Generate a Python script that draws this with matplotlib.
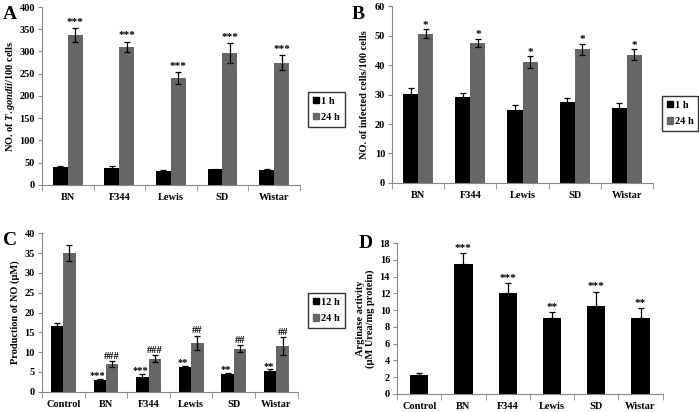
import matplotlib.pyplot as plt
import numpy as np

# Data
strains = ["BN", "F344", "Lewis", "SD", "Wistar"]
groups_cd = ["Control", "BN", "F344", "Lewis", "SD", "Wistar"]

a_1h = [41, 39, 31, 35, 33]
a_1h_err = [2, 3, 2, 1.5, 2]
a_24h = [337, 310, 240, 297, 275]
a_24h_err = [15, 12, 13, 22, 17]
a_sig = ["***"] * 5

b_1h = [30.3, 29.1, 24.9, 27.4, 25.4]
b_1h_err = [1.8, 1.5, 1.6, 1.4, 1.7]
b_24h = [50.6, 47.5, 41.0, 45.3, 43.5]
b_24h_err = [1.5, 1.5, 2.0, 2.0, 1.8]
b_sig = ["*"] * 5

c_12h = [16.5, 3.0, 3.8, 6.2, 4.5, 5.3]
c_12h_err = [0.8, 0.3, 0.7, 0.4, 0.35, 0.35]
c_24h = [35.0, 7.0, 8.4, 12.4, 10.9, 11.5]
c_24h_err = [1.9, 0.7, 0.9, 1.8, 0.8, 2.2]
c_sig12 = ["", "***", "***", "**", "**", "**"]
c_sig24 = ["", "###", "###", "##", "##", "##"]

d_vals = [2.3, 15.5, 12.1, 9.0, 10.5, 9.0]
d_err = [0.2, 1.3, 1.1, 0.75, 1.7, 1.2]
d_sig = ["", "***", "***", "**", "***", "**"]

plt.rcParams["font.family"] = "Liberation Serif"
plt.rcParams["font.weight"] = "bold"
plt.rcParams["axes.labelweight"] = "bold"
plt.rcParams["mathtext.fontset"] = "custom"
plt.rcParams["mathtext.it"] = "Liberation Serif:italic:bold"
plt.rcParams["mathtext.rm"] = "Liberation Serif:bold"

BLACK = "#000000"
GRAY = "#666666"
SPINE = "#888888"

fig = plt.figure(figsize=(6.99, 4.12), dpi=100)
axA = fig.add_axes([0.060, 0.551, 0.369, 0.432])
axB = fig.add_axes([0.561, 0.556, 0.373, 0.429])
axC = fig.add_axes([0.060, 0.049, 0.366, 0.385])
axD = fig.add_axes([0.568, 0.044, 0.380, 0.366])


def style(ax, labels, ymax, ystep):
    n = len(labels)
    ax.set_xlim(0, n)
    ax.set_ylim(0, ymax)
    ax.set_yticks(np.arange(0, ymax + ystep / 2, ystep))
    ax.set_xticks(np.arange(n) + 0.5)
    ax.set_xticklabels(labels, fontsize=7.5)
    ax.set_xticks(np.arange(n + 1), minor=True)
    ax.tick_params(axis="x", which="major", length=0, pad=6)
    ax.tick_params(axis="x", which="minor", length=4, direction="out", color=SPINE)
    ax.tick_params(axis="y", length=3, direction="out", color=SPINE, labelsize=7.5, pad=2)
    for s in ["top", "right"]:
        ax.spines[s].set_visible(False)
    for s in ["left", "bottom"]:
        ax.spines[s].set_color(SPINE)
        ax.spines[s].set_linewidth(0.8)


def pair(ax, v1, e1, v2, e2, w=0.29):
    x = np.arange(len(v1)) + 0.5
    ek = dict(elinewidth=0.9, capsize=2.5, capthick=0.9, ecolor="black")
    ax.bar(x - w / 2, v1, w, color=BLACK, yerr=e1, error_kw=ek, zorder=2)
    ax.bar(x + w / 2, v2, w, color=GRAY, yerr=e2, error_kw=ek, zorder=2)
    return x


def legend(ax, labels, pos):
    from matplotlib.patches import Patch
    h = [Patch(color=BLACK, label=labels[0]), Patch(color=GRAY, label=labels[1])]
    fig.legend(handles=h, loc="upper left", bbox_to_anchor=pos, fontsize=7.5,
               frameon=True, fancybox=False, edgecolor="black", handlelength=0.6,
               handleheight=0.6, handletextpad=0.2, borderpad=0.45, labelspacing=0.7,
               borderaxespad=0)


# A
x = pair(axA, a_1h, a_1h_err, a_24h, a_24h_err)
for xi, v, e, s in zip(x, a_24h, a_24h_err, a_sig):
    axA.text(xi + 0.145, v + e + 3, s, ha="center", va="bottom", fontsize=8)
style(axA, strains, 400, 50)
axA.set_ylabel("NO. of $\\it{T. gondii}$/100 cells", fontsize=7.5, labelpad=2)
legend(axA, ["1 h", "24 h"], (0.441, 0.777))
fig.text(0.004, 0.985, "A", fontsize=14, fontweight="bold", va="top")

# B
x = pair(axB, b_1h, b_1h_err, b_24h, b_24h_err)
for xi, v, e, s in zip(x, b_24h, b_24h_err, b_sig):
    axB.text(xi + 0.145, v + e - 0.3, s, ha="center", va="bottom", fontsize=8)
style(axB, strains, 60, 10)
axB.set_ylabel("NO. of infected cells/100 cells", fontsize=7.5, labelpad=4)
legend(axB, ["1 h", "24 h"], (0.947, 0.767))
fig.text(0.503, 0.985, "B", fontsize=14, fontweight="bold", va="top")

# C
x = pair(axC, c_12h, c_12h_err, c_24h, c_24h_err)
for xi, v, e, s in zip(x, c_12h, c_12h_err, c_sig12):
    axC.text(xi - 0.19, v + e - 0.3, s, ha="center", va="bottom", fontsize=7.5)
for xi, v, e, s in zip(x, c_24h, c_24h_err, c_sig24):
    axC.text(xi + 0.145, v + e + 0.1, s, ha="center", va="bottom", fontsize=7.5)
style(axC, groups_cd, 40, 5)
axC.set_ylabel("Production of NO (\u03bcM)", fontsize=7.5, labelpad=3)
legend(axC, ["12 h", "24 h"], (0.441, 0.289))
fig.text(0.004, 0.438, "C", fontsize=14, fontweight="bold", va="top")

# D
xd = np.arange(len(d_vals)) + 0.5
axD.bar(xd, d_vals, 0.41, color=BLACK, yerr=[np.zeros(len(d_err)), d_err],
        error_kw=dict(elinewidth=0.9, capsize=2.5, capthick=0.9, ecolor="black"), zorder=2)
for xi, v, e, s in zip(xd, d_vals, d_err, d_sig):
    axD.text(xi, v + e + 0.05, s, ha="center", va="bottom", fontsize=8)
style(axD, groups_cd, 18, 2)
axD.set_ylabel("Arginase activity\n(\u03bcM Urea/mg protein)", fontsize=7.5, labelpad=3,
               linespacing=1.1)
fig.text(0.513, 0.43, "D", fontsize=14, fontweight="bold", va="top")

plt.savefig("out.png", dpi=100)
